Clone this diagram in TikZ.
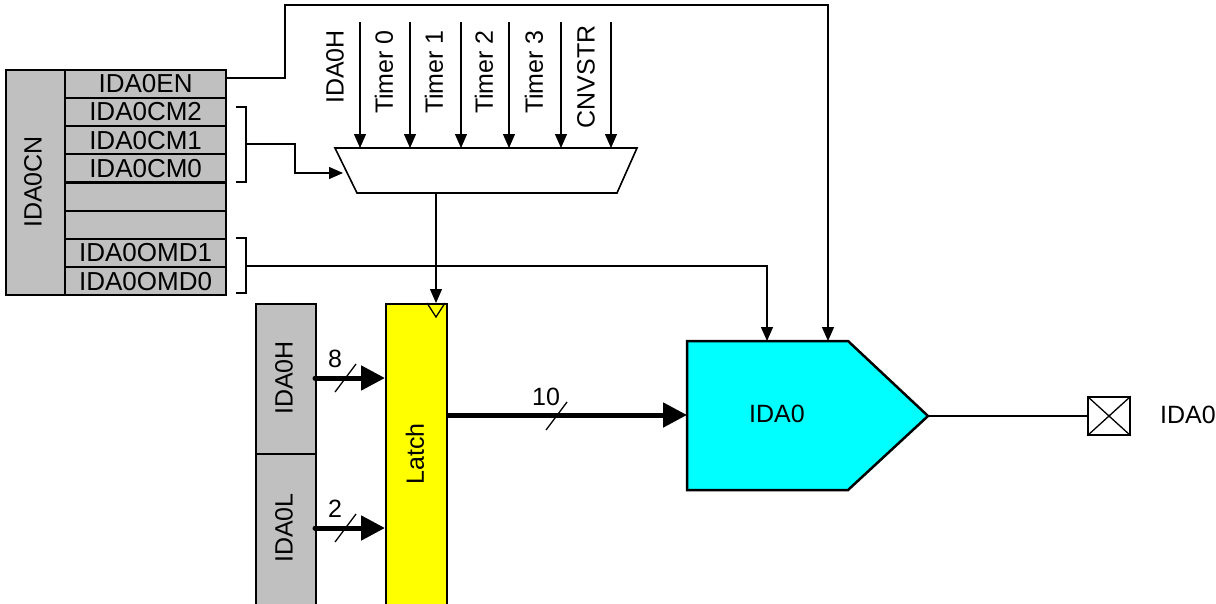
\documentclass[tikz,border=0pt]{standalone}
\usepackage{fontspec}
\setmainfont{Liberation Sans}
\usetikzlibrary{arrows.meta}
\definecolor{regfill}{RGB}{192,192,192}
\definecolor{latchfill}{RGB}{255,255,0}
\definecolor{dacfill}{RGB}{0,255,255}
\begin{document}
\begin{tikzpicture}[x=1pt,y=-1pt,font=\fontsize{25}{29}\selectfont]
\tikzset{
  reg/.style={draw, fill=regfill, line width=2.2pt, minimum width=161pt, minimum height=28.2pt, inner sep=0pt, anchor=north west, font=\fontsize{26}{29}\selectfont},
  blk/.style={draw, line width=2.2pt, inner sep=0pt, anchor=north west},
  wire/.style={line width=1.3pt},
  arr/.style={wire, -{Triangle[length=14pt,width=12pt]}},
  bus/.style={line width=5pt, line cap=round, -{Triangle[length=24pt,width=24pt]}},
  lbl/.style={inner sep=0pt},
  vlbl/.style={inner sep=0pt, rotate=90},
}
\useasboundingbox (0,0) rectangle (1216,603);

% IDA0CN register
\node[blk, fill=regfill, minimum width=59pt, minimum height=225.6pt] (cn) at (5,68.5) {};
\node[vlbl] (cnlbl) at (33,182) {IDA0CN};
\foreach \i/\t in {0/IDA0EN,1/IDA0CM2,2/IDA0CM1,3/IDA0CM0,4/{},5/{},6/IDA0OMD1,7/IDA0OMD0}{
  \node[reg] (r\i) at (64,68.5+\i*28.2) {\t};
}

% brackets
\coordinate (cmt) at (236,107);
\coordinate (cmb) at (236,182);
\coordinate (cmm) at (246,144);
\draw[wire] (cmt) -- (246,107) -- (246,182) -- (cmb);
\coordinate (omt) at (236,238);
\coordinate (omb) at (236,293);
\coordinate (omm) at (246,266);
\draw[wire] (omt) -- (246,238) -- (246,293) -- (omb);

% mux
\coordinate (mtl) at (335,148);
\coordinate (mtr) at (637,148);
\coordinate (mbr) at (617,193);
\coordinate (mbl) at (357,193);
\draw[line width=1.6pt, fill=white] (mtl) -- (mtr) -- (mbr) -- (mbl) -- cycle;
\coordinate (msel) at (343,173);
\coordinate (mout) at (436,193);

% mux inputs
\foreach \n/\x/\lx/\ly/\t in {a/360/335/67/IDA0H, b/410/384/72/Timer 0, c/461/434/72/Timer 1, d/509/484/72/Timer 2, e/561/534/72/Timer 3, f/611/586/77/CNVSTR}{
  \coordinate (in\n) at (\x,22);
  \coordinate (mi\n) at (\x,148);
  \draw[arr] (in\n) -- (mi\n);
  \node[vlbl] (l\n) at (\lx,\ly) {\t};
}

% select line
\draw[arr] (cmm) -- (295,144) -- (295,173) -- (msel);

% IDA0H / IDA0L data registers
\node[blk, fill=regfill, minimum width=60pt, minimum height=150pt] (dh) at (255,303) {};
\node[blk, fill=regfill, minimum width=60pt, minimum height=152pt] (dl) at (255,453) {};
\node[vlbl] (dhl) at (284,378) {IDA0H};
\node[vlbl] (dll) at (284,528) {IDA0L};

% Latch
\node[blk, fill=latchfill, minimum width=61pt, minimum height=303pt] (latch) at (385,303) {};
\node[vlbl] (latchl) at (415,454) {Latch};
\coordinate (clk) at (436,303);
\draw[wire] (427,303) -- (436,317) -- (445,303);
\draw[arr] (mout) -- (clk);

% buses into latch
\coordinate (b8s) at (315,378);
\coordinate (b8e) at (385,378);
\draw[bus] (b8s) -- (b8e);
\draw[wire] (335,392) -- (356,364);
\node[lbl] (n8) at (335,359) {8};
\coordinate (b2s) at (315,528);
\coordinate (b2e) at (385,528);
\draw[bus] (b2s) -- (b2e);
\draw[wire] (335,542) -- (356,514);
\node[lbl] (n2) at (335,509) {2};

% IDA0 DAC block
\coordinate (d1) at (687,341);
\coordinate (d2) at (848,341);
\coordinate (dtip) at (928,416);
\coordinate (d4) at (848,490);
\coordinate (d5) at (687,490);
\draw[line width=2.5pt, fill=dacfill, line join=miter] (d1) -- (d2) -- (dtip) -- (d4) -- (d5) -- cycle;
\node[lbl] (dacl) at (777,414) {IDA0};
\coordinate (din) at (687,415);

% 10-bit bus
\coordinate (b10s) at (446,415);
\draw[bus, line cap=butt] (b10s) -- (din);
\draw[wire] (546,430) -- (567,402);
\node[lbl] (n10) at (546,397) {10};

% control lines into IDA0
\coordinate (enin) at (828,341);
\coordinate (omin) at (767,341);
\draw[arr] (r0.east |- 0,78) -- (285,78) -- (285,5) -- (828,5) -- (enin);
\draw[arr] (omm) -- (767,266) -- (omin);

% output pad
\node[draw, line width=1.3pt, minimum width=42pt, minimum height=38pt, inner sep=0pt] (pad) at (1109,416) {};
\draw[wire] (pad.north west) -- (pad.south east) (pad.south west) -- (pad.north east);
\draw[wire] (dtip) -- (pad.west);
\node[lbl, anchor=west] (padl) at (1160,415) {IDA0};
\end{tikzpicture}
\end{document}
